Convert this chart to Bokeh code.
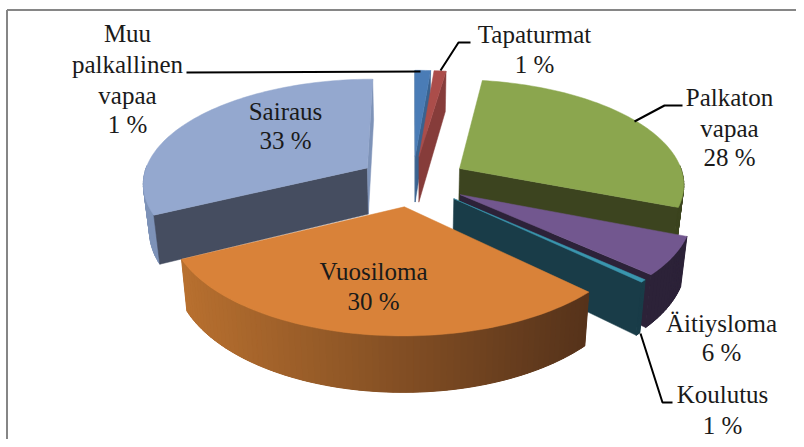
import numpy as np
from bokeh.plotting import figure
from bokeh.embed import file_html
from bokeh.resources import INLINE
from bokeh.core.properties import value

# --- chart data, clockwise from 12 o'clock
categories = ["Muu palkallinen vapaa", "Tapaturmat", "Palkaton vapaa", "Äitiysloma", "Koulutus", "Vuosiloma", "Sairaus"]
values = [1.3, 1.0, 28.7, 5.8, 0.4, 30.5, 32.3]
percent_labels = ["1 %", "1 %", "28 %", "6 %", "1 %", "30 %", "33 %"]

top_colors = ["#4A7CB6", "#AB4D4A", "#8BA64E", "#72578F", "#3A96AE", "#D98239", "#94A8CF"]
face_colors = ["#3A628F", "#863C3A", "#3C441F", "#2C2238", "#193C48", "#5A3516", "#454D60"]
rim_from = ["#3A628F", "#863C3A", "#3C441F", "#2C2238", "#193C48", "#B8702F", "#7E93B8"]
rim_to = ["#3A628F", "#863C3A", "#3C441F", "#2C2238", "#193C48", "#55321A", "#7E93B8"]
end_colors = ["#3A628F", "#863C3A", "#3C441F", "#2C2238", "#193C48", "#5A3516", "#7E93B8"]
draw_order = [6, 0, 1, 2, 3, 4, 5]

# --- projection of the tilted pie to page pixels
CX, CY, A, B, K = 412.5, 180.5, 225.0, 104.0, 0.135
EXPLODE, DEPTH, SHRINK = 0.243, 47.0, 0.977


def project(u, v):
    w = 1 + K * v
    return CX + A * u / w, CY - B * v / w


def extrude(u, v):
    x, y = project(u, v)
    w = 1 + K * v
    return CX + (x - CX) * SHRINK, y + DEPTH / w


def hexmix(c1, c2, t):
    a = [int(c1[i:i + 2], 16) for i in (1, 3, 5)]
    b = [int(c2[i:i + 2], 16) for i in (1, 3, 5)]
    return "#%02X%02X%02X" % tuple(int(round(p + (q - p) * t)) for p, q in zip(a, b))


p = figure(width=796, height=439, output_backend="svg", toolbar_location=None,
           x_range=(0, 796), y_range=(439, 0), min_border=0,
           background_fill_color="white", border_fill_color="white", outline_line_color=None)
p.axis.visible = False
p.grid.visible = False

fractions = np.array(values) / sum(values)
edges = np.concatenate([[0], np.cumsum(fractions)]) * 2 * np.pi

# frame
p.line([6.5, 6.5], [439, 9.5], line_color="#868686", line_width=2)
p.line([6.5, 796], [9.5, 9.5], line_color="#868686", line_width=2)

for i in draw_order:
    a0, a1 = edges[i], edges[i + 1]
    mid = (a0 + a1) / 2
    u0, v0 = EXPLODE * np.sin(mid), EXPLODE * np.cos(mid)
    th = np.linspace(a0, a1, max(4, int((a1 - a0) * 40)))
    ru, rv = u0 + np.sin(th), v0 + np.cos(th)

    # rim, only where it turns to the viewer
    rx, ry = project(ru, rv)
    bx, by = extrude(ru, rv)
    xl_min, xl_max = rx.min(), rx.max()
    front = np.cos(th) <= 0.02
    if front.sum() > 1:
        under = hexmix(rim_from[i], rim_to[i], 0.5)
        p.patch(np.concatenate([rx[front], bx[front][::-1]]), np.concatenate([ry[front], by[front][::-1]]),
                fill_color=under, line_color=None)
    for j in range(len(th) - 1):
        if np.cos((th[j] + th[j + 1]) / 2) > 0.02:
            continue
        t = ((rx[j] + rx[j + 1]) / 2 - xl_min) / max(1, xl_max - xl_min)
        col = hexmix(rim_from[i], rim_to[i], t)
        p.patch([rx[j], rx[j + 1], bx[j + 1], bx[j]], [ry[j], ry[j + 1], by[j + 1], by[j]],
                fill_color=col, line_color=col, line_width=1)

    # cut faces
    for ang, nv, col in ((a0, np.sin(a0), face_colors[i]), (a1, -np.sin(a1), end_colors[i] if a1 > 6.2 else face_colors[i])):
        if nv > 1e-6:
            continue
        eu, ev = u0 + np.sin(ang), v0 + np.cos(ang)
        x1, y1 = project(u0, v0)
        x2, y2 = project(eu, ev)
        x3, y3 = extrude(eu, ev)
        x4, y4 = extrude(u0, v0)
        p.patch([x1, x2, x3, x4], [y1, y2, y3, y4], fill_color=col, line_color=col, line_width=0.5)

    # top surface
    tx, ty = project(np.concatenate([[u0], ru]), np.concatenate([[v0], rv]))
    p.patch(tx, ty, fill_color=top_colors[i], line_color=top_colors[i], line_width=0.5)

# leader lines
leaders = [
    ([186, 420], [72, 71]),
    ([470, 458, 440], [42, 42, 70]),
    ([682, 664, 634], [105, 105, 121]),
    ([640, 662, 672], [333, 402, 402]),
]
for lx, ly in leaders:
    p.line(lx, ly, line_color="black", line_width=2)

# labels: one entry per printed line
text_lines = ["Muu", "palkallinen", "vapaa", percent_labels[0],
              categories[1], percent_labels[1],
              "Palkaton", "vapaa", percent_labels[2],
              categories[3], percent_labels[3],
              categories[4], percent_labels[4],
              categories[5], percent_labels[5],
              categories[6], percent_labels[6]]
text_x = [127, 127, 127, 127, 534, 534, 729, 729, 729, 721, 721, 722, 722, 373, 373, 285, 285]
text_y = [33, 64, 95, 124, 34, 64, 97, 128, 157, 323, 352, 394, 425, 271, 301, 111, 140]
p.text(text_x, text_y, text=text_lines, text_align="center", text_baseline="middle",
       text_font=value("Liberation Serif"), text_font_size="25px", text_color="#1A1A1A")

open("out.html", "w").write(file_html(p, INLINE))
